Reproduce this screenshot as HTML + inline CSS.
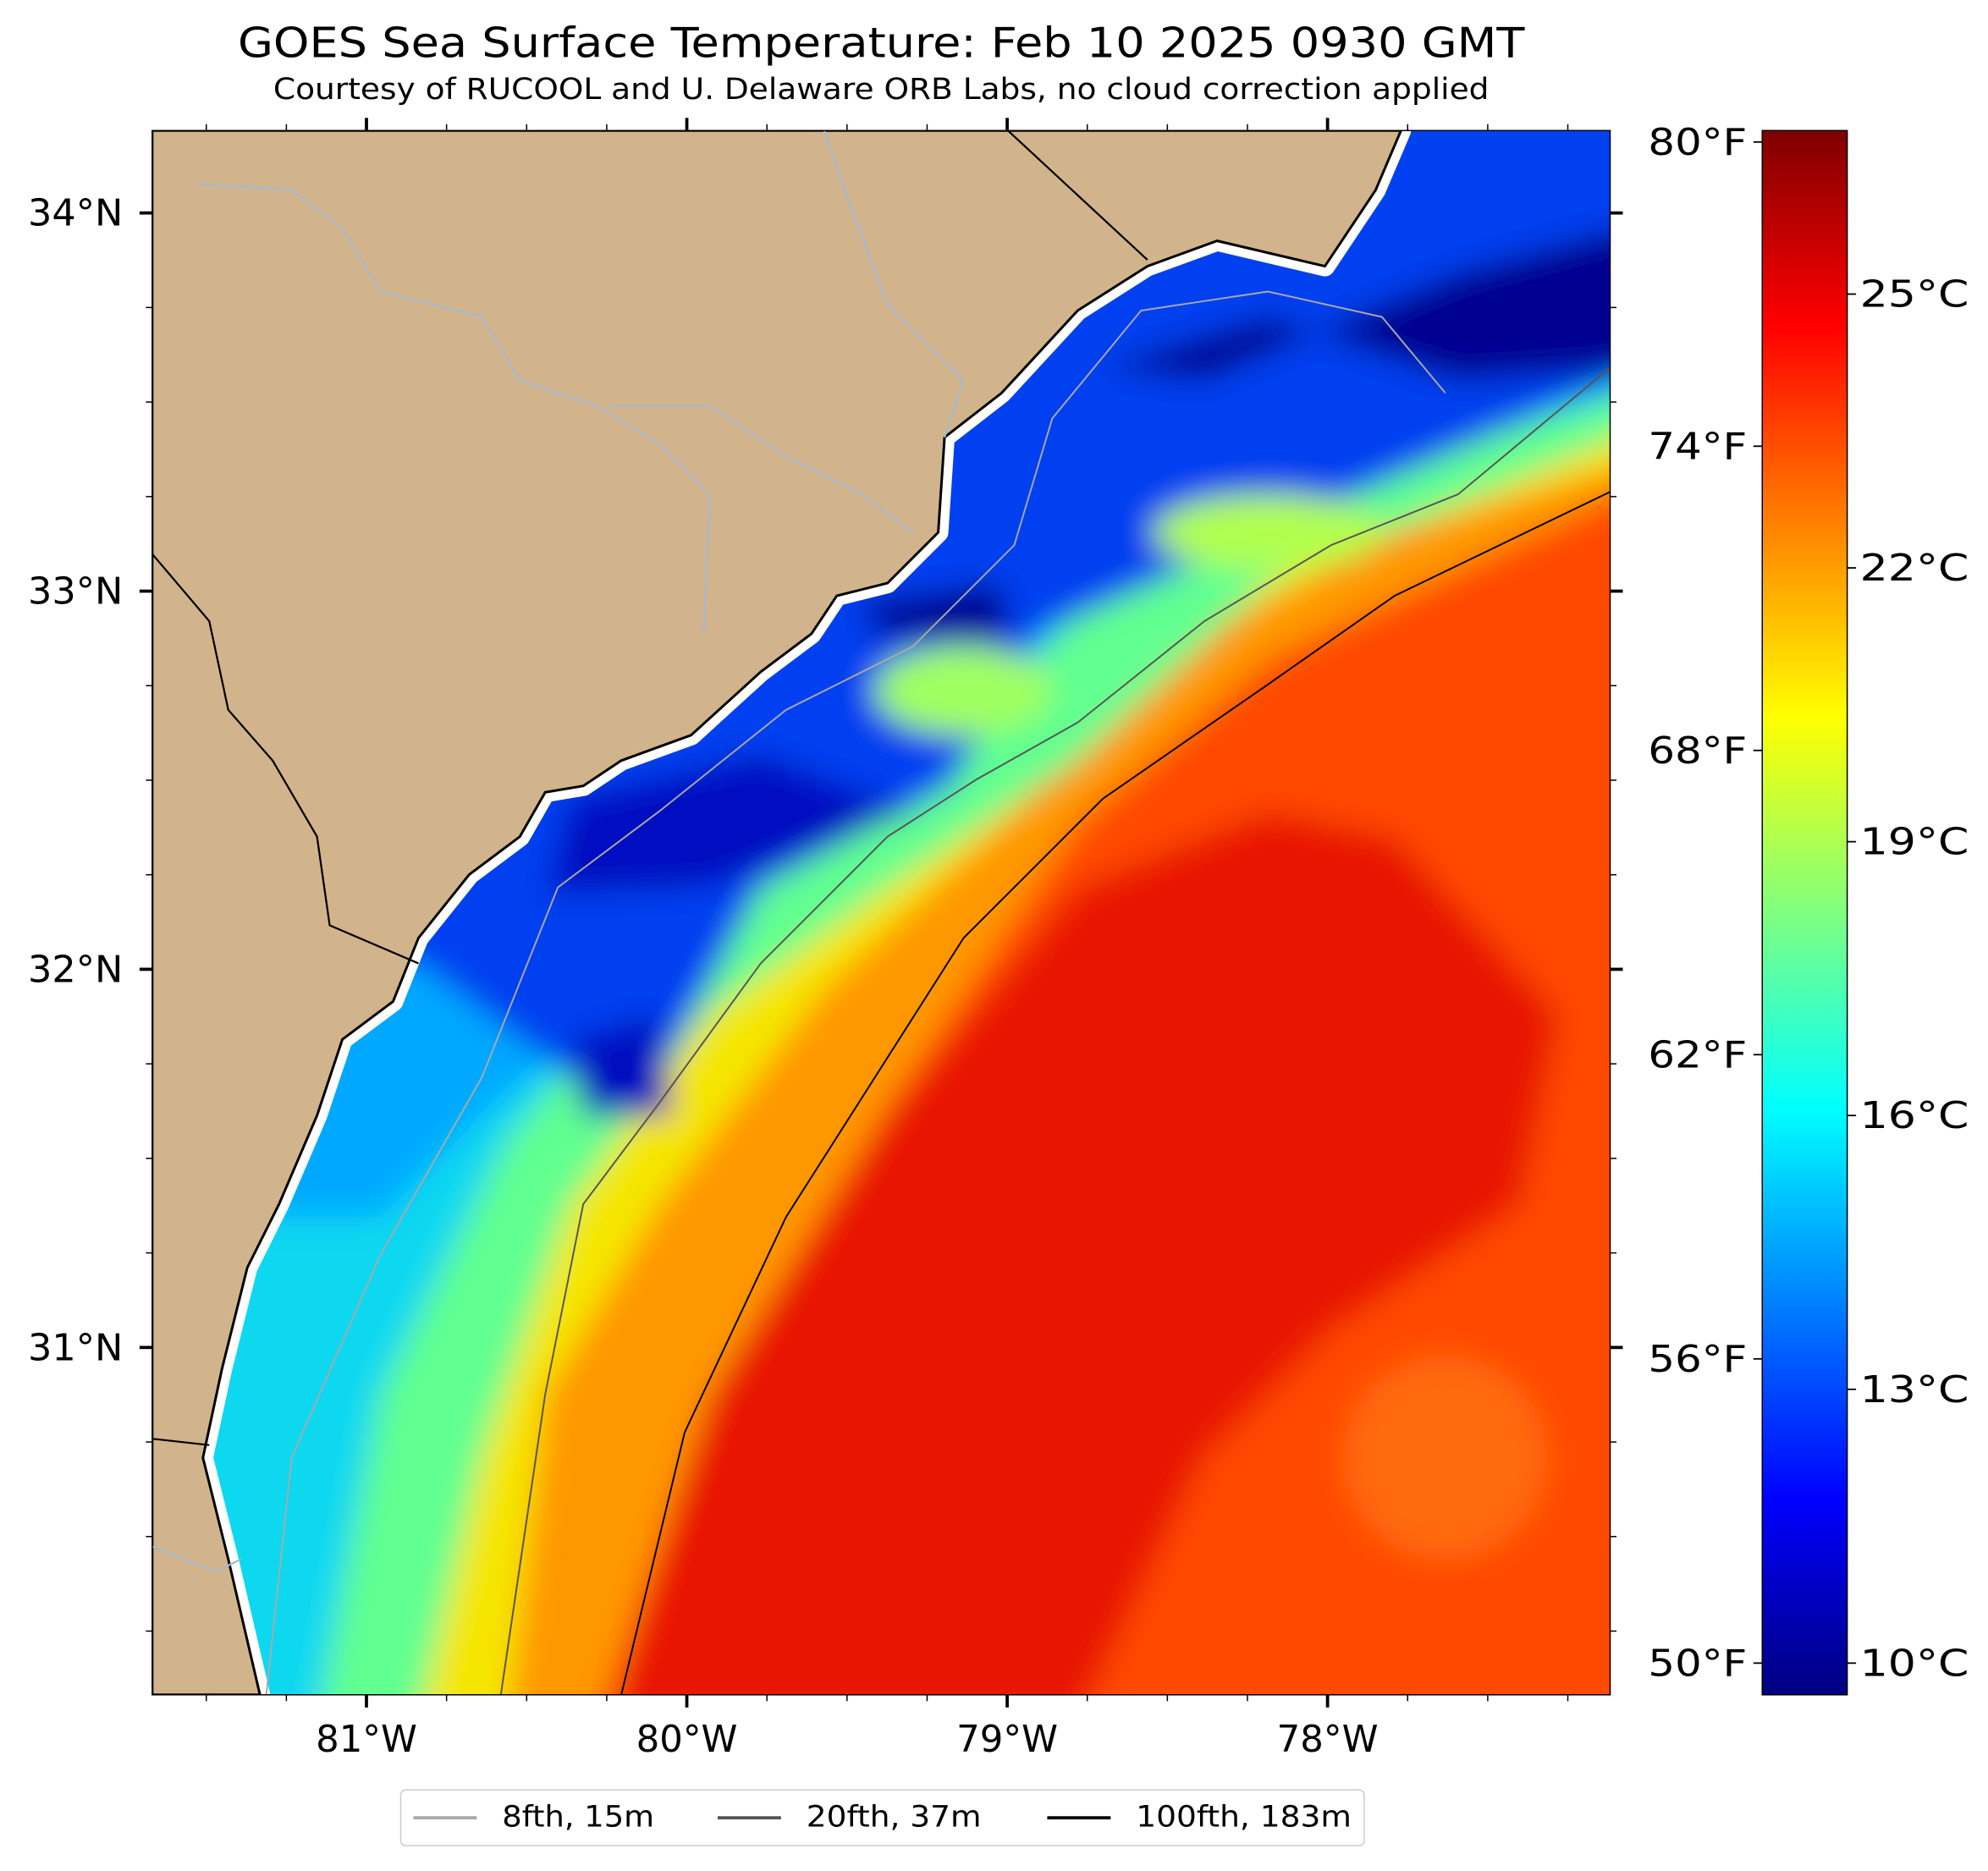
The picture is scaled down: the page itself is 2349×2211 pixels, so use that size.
<!DOCTYPE html>
<html><head><meta charset="utf-8"><style>
html,body{margin:0;padding:0;background:#fff;}
svg{display:block;font-family:"DejaVu Sans","Liberation Sans",sans-serif;}
</style></head><body>
<svg id="fig" width="2349" height="2211" viewBox="0 0 1568 1476" xmlns="http://www.w3.org/2000/svg">
<defs>
<clipPath id="mapclip"><rect x="120" y="103" width="1150" height="1234"/></clipPath>
<filter id="blur" x="-10%" y="-10%" width="120%" height="120%"><feGaussianBlur stdDeviation="12"/></filter>
<linearGradient id="jet" x1="0" y1="1" x2="0" y2="0">
<stop offset="0" stop-color="#00007f"/><stop offset="0.125" stop-color="#0000ff"/>
<stop offset="0.375" stop-color="#00ffff"/><stop offset="0.625" stop-color="#ffff00"/>
<stop offset="0.875" stop-color="#ff0000"/><stop offset="1" stop-color="#7f0000"/>
</linearGradient>
</defs>
<text x="695" y="45" font-size="33" text-anchor="middle" textLength="1015" lengthAdjust="spacingAndGlyphs">GOES Sea Surface Temperature: Feb 10 2025 0930 GMT</text>
<text x="695" y="78" font-size="23" text-anchor="middle" textLength="959" lengthAdjust="spacingAndGlyphs">Courtesy of RUCOOL and U. Delaware ORB Labs, no cloud correction applied</text>

<g clip-path="url(#mapclip)">
<rect x="120" y="103" width="1150" height="1234" fill="#fff"/>
<g filter="url(#blur)">
<rect x="100" y="80" width="1200" height="1280" fill="#ff4a00"/>
<polygon fill="#e81400" points="480,1360 560,1100 700,880 850,700 1000,640 1100,660 1230,800 1200,950 1050,1050 950,1150 850,1360"/>
<polygon fill="#ff9800" points="100,80 1300,80 1300,380 1000,520 850,650 700,870 560,1100 470,1360 100,1360"/>
<polygon fill="#f5e600" points="100,80 1300,80 1300,360 1100,420 950,500 800,640 650,780 520,950 430,1100 400,1360 100,1360"/>
<polygon fill="#60ff90" points="100,80 1300,80 1300,335 1000,460 850,600 700,700 560,800 450,950 380,1150 330,1360 100,1360"/>
<polygon fill="#10d8f0" points="100,80 1300,80 1300,305 900,430 780,560 640,650 500,780 400,900 300,1100 250,1360 100,1360"/>
<polygon fill="#00a8ff" points="100,80 1300,80 1300,300 900,420 780,550 600,660 480,800 380,880 300,960 100,960"/>
<polygon fill="#0040f0" points="100,80 1300,80 1300,290 1000,420 820,500 750,620 600,700 520,850 450,850 330,760 100,760"/>
<polygon fill="#000090" points="870,290 1000,250 1150,300 1300,290 1300,175 1150,215 950,300"/>
<polygon fill="#000090" points="680,475 790,460 795,505 690,500"/>
<polygon fill="#0010c0" points="450,630 600,595 720,640 560,700 430,705"/>
<polygon fill="#0010c0" points="450,820 520,800 530,880 460,880"/>
<ellipse fill="#a0ff60" cx="760" cy="545" rx="70" ry="35"/>
<ellipse fill="#b0ff50" cx="1000" cy="420" rx="90" ry="30"/>
<ellipse fill="#ff6a10" cx="1140" cy="1150" rx="80" ry="80"/>
</g>
<path d="M1105,103 L1085,150 L1045,210 L960,190 L905,210 L850,245 L790,310 L745,345 L740,420 L700,460 L660,470 L640,500 L600,530 L545,580 L490,600 L460,620 L430,625 L410,660 L370,690 L330,740 L310,790 L270,820 L250,880 L220,950 L195,1000 L175,1080 L160,1150 L180,1230 L205,1337 L120,1337 L120,103 Z" fill="#d2b48c" stroke="#fff" stroke-width="16" stroke-linejoin="round"/>
<path d="M1105,103 L1085,150 L1045,210 L960,190 L905,210 L850,245 L790,310 L745,345 L740,420 L700,460 L660,470 L640,500 L600,530 L545,580 L490,600 L460,620 L430,625 L410,660 L370,690 L330,740 L310,790 L270,820 L250,880 L220,950 L195,1000 L175,1080 L160,1150 L180,1230 L205,1337 L120,1337 L120,103 Z" fill="#d2b48c" stroke="#000" stroke-width="2"/>
<g fill="none" stroke="#a8b8cc" stroke-width="1.5">
<path d="M155,145 L230,150 L270,180 L300,230 L380,250 L410,300 L470,320 L520,350 L560,390 L555,500"/>
<path d="M480,320 L560,320 L620,360 L680,390 L720,420"/>
<path d="M650,103 L670,160 L700,240 L760,300 L745,345"/>
<path d="M120,1220 L170,1240 L190,1230"/>
</g>
<g fill="none" stroke="#000" stroke-width="1.5">
<path d="M120,437 L165,490 L180,560 L215,600 L250,660 L260,730 L330,760"/>
<path d="M795,103 L905,205"/>
<path d="M120,1135 L165,1140"/>
</g>
<path fill="none" stroke="#a9a9a9" stroke-width="1.3" d="M210,1337 L230,1150 L300,990 L380,850 L440,700 L520,640 L620,560 L720,510 L800,430 L830,330 L900,245 L1000,230 L1090,250 L1140,310"/>
<path fill="none" stroke="#555" stroke-width="1.3" d="M395,1337 L430,1100 L460,950 L520,870 L600,760 L700,660 L770,615 L850,570 L950,490 L1050,430 L1150,390 L1270,290"/>
<path fill="none" stroke="#000" stroke-width="1.3" d="M490,1337 L540,1130 L620,960 L760,740 L870,630 L1000,540 L1100,470 L1270,388"/>
</g>
<rect x="120" y="103" width="1150" height="1234" fill="none" stroke="#000" stroke-width="1"/>
<g id="axes"></g>

<rect x="1390" y="103" width="67" height="1234" fill="url(#jet)" stroke="#000" stroke-width="1"/>
<g id="cbaxes"></g>

<g>
<rect x="316" y="1412" width="760" height="44" rx="4" fill="#fff" stroke="#ccc"/>
<line x1="326" y1="1434" x2="376" y2="1434" stroke="#a9a9a9" stroke-width="2.5"/>
<text x="396" y="1441" font-size="23" textLength="120" lengthAdjust="spacingAndGlyphs">8fth, 15m</text>
<line x1="566" y1="1434" x2="616" y2="1434" stroke="#555" stroke-width="2.5"/>
<text x="636" y="1441" font-size="23" textLength="138" lengthAdjust="spacingAndGlyphs">20fth, 37m</text>
<line x1="826" y1="1434" x2="876" y2="1434" stroke="#000" stroke-width="2.5"/>
<text x="896" y="1441" font-size="23" textLength="170" lengthAdjust="spacingAndGlyphs">100fth, 183m</text>
</g>
</svg>
<script>
const latTicks=[34,33,32,31];
const lonTicks=[81,80,79,78];
const celsiusTicks=[10,13,16,19,22,25];
const fahrenheitTicks=[50,56,62,68,74,80];
const NS='http://www.w3.org/2000/svg';
const latY=lat=>168+(34-lat)*298.33;
const lonX=lon=>289+(81-lon)*252.7;
const cbY=c=>1312-(c-10)*72;
const FS=29;
function mk(tag,attrs,parent,txt){const e=document.createElementNS(NS,tag);for(const k in attrs)e.setAttribute(k,attrs[k]);if(txt!==undefined)e.textContent=txt;parent.appendChild(e);return e;}
const ax=document.getElementById('axes');
for(let l=30.25;l<=34.26;l+=0.25){const y=latY(l);if(y<103||y>1337)continue;const major=Math.abs(l-Math.round(l))<0.01;const len=major?10:5,w=major?2.5:1;
const t1=mk('line',{x1:120,x2:120-len,y1:y,y2:y,stroke:'#000','stroke-width':w},ax);


const t2=mk('line',{x1:1270,x2:1270+len,y1:y,y2:y,stroke:'#000','stroke-width':w},ax);

}
for(let l=77.25;l<=81.76;l+=0.25){const x=lonX(l);if(x<120||x>1270)continue;const major=Math.abs(l-Math.round(l))<0.01;const len=major?10:5,w=major?2.5:1;
const t1=mk('line',{x1:x,x2:x,y1:1337,y2:1337+len,stroke:'#000','stroke-width':w},ax);


const t2=mk('line',{x1:x,x2:x,y1:103,y2:103-len,stroke:'#000','stroke-width':w},ax);

}
latTicks.forEach(l=>{const t=mk('text',{x:97,y:latY(l)+10,'font-size':FS,'text-anchor':'end',textLength:75,lengthAdjust:'spacingAndGlyphs'},ax,l+'°N');

});
lonTicks.forEach(l=>{const t=mk('text',{x:lonX(l),y:1382,'font-size':FS,'text-anchor':'middle',textLength:80,lengthAdjust:'spacingAndGlyphs'},ax,l+'°W');

});
const cb=document.getElementById('cbaxes');
celsiusTicks.forEach(c=>{const y=cbY(c);
const t=mk('line',{x1:1457,x2:1464,y1:y,y2:y,stroke:'#000','stroke-width':1.2},cb);


const tx=mk('text',{x:1467,y:y+10,'font-size':FS,textLength:86,lengthAdjust:'spacingAndGlyphs'},cb,c+'°C');

});
fahrenheitTicks.forEach(f=>{const y=cbY((f-32)*5/9);
const t=mk('line',{x1:1390,x2:1383,y1:y,y2:y,stroke:'#000','stroke-width':1.2},cb);


const tx=mk('text',{x:1378,y:y+10,'font-size':FS,'text-anchor':'end',textLength:78,lengthAdjust:'spacingAndGlyphs'},cb,f+'°F');

});
</script>
</body></html>
